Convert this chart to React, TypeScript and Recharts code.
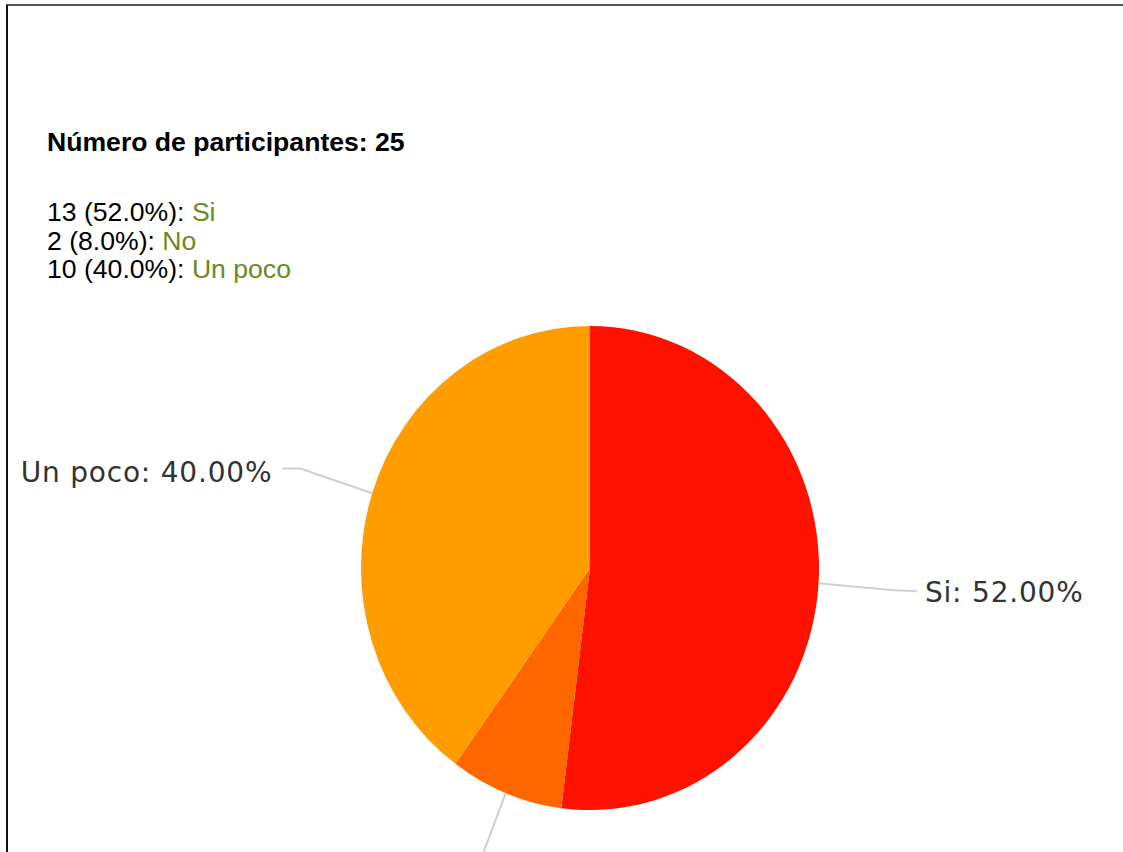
import React from "react"
import { PieChart, Pie, Cell } from "recharts"

const categories = ["Si", "No", "Un poco"]
const counts = [13, 2, 10]
const titleText = "Número de participantes"

const sliceColors = ["#ff1100", "#ff6600", "#ff9c00"]

const W = 1123
const H = 852
const CX = 590
const CY = 568
const R = 229
const SY = 1.057 // the original pie is a little taller than wide

const total = counts.reduce((a, b) => a + b, 0)
const data = categories.map((name, i) => ({ name, value: counts[i] }))

const font = '"Liberation Sans", Arial, sans-serif'

function renderLabel(props: any) {
  const { cx, cy, midAngle, outerRadius, name, percent } = props
  const rad = (midAngle * Math.PI) / 180
  const dx = Math.cos(rad) * outerRadius
  const dy = -Math.sin(rad) * outerRadius * SY
  const x1 = cx + dx
  const y1 = cy + dy
  const x2 = cx + dx * 1.33
  const y2 = cy + dy * 1.33
  const right = Math.cos(rad) >= 0
  const x3 = x2 + (right ? 23 : -18)
  const tx = x3 + (right ? 8 : -10)
  return (
    <g key={name}>
      <polyline
        points={`${x1},${y1} ${x2},${y2 + (right ? 2 : 0)} ${x3},${y2 + (right ? 3 : 0)}`}
        fill="none"
        stroke="#cfcfcf"
        strokeWidth={2}
      />
      <text
        x={tx}
        y={y2 + 4}
        textAnchor={right ? "start" : "end"}
        dominantBaseline="central"
        fontFamily='"DejaVu Sans", sans-serif'
        fontSize={28}
        letterSpacing={0.8}
        fill="#333"
      >
        {`${name}: ${(percent * 100).toFixed(2)}%`}
      </text>
    </g>
  )
}

export default function App() {
  return (
    <div
      style={{
        position: "absolute",
        left: 0,
        top: 0,
        width: W,
        height: H,
        overflow: "hidden",
        background: "#fff",
      }}
    >
      <style>{`.recharts-pie-sector { transform-origin: ${CX}px ${CY}px; transform: scaleY(${SY}); }`}</style>
      <div
        style={{
          position: "absolute",
          left: 6,
          top: 4,
          width: 1300,
          height: 1000,
          borderTop: "2px solid #555",
          borderLeft: "2px solid #111",
        }}
      />
      <div
        style={{
          position: "absolute",
          left: 47,
          top: 128,
          fontFamily: font,
          fontSize: 26.6,
          lineHeight: "29px",
          fontWeight: "bold",
          color: "#000",
        }}
      >
        {`${titleText}: ${total}`}
      </div>
      <div
        style={{
          position: "absolute",
          left: 47,
          top: 198,
          fontFamily: font,
          fontSize: 26.6,
          lineHeight: "28.5px",
          color: "#000",
        }}
      >
        {data.map((d) => (
          <div key={d.name}>
            {`${d.value} (${((d.value / total) * 100).toFixed(1)}%): `}
            <span style={{ color: "#6a8a22" }}>{d.name}</span>
          </div>
        ))}
      </div>
      <div style={{ position: "absolute", left: 0, top: 0 }}>
        <PieChart width={W} height={H} margin={{ top: 0, right: 0, bottom: 0, left: 0 }}>
          <Pie
            data={data}
            dataKey="value"
            nameKey="name"
            cx={CX}
            cy={CY}
            outerRadius={R}
            startAngle={90}
            endAngle={-270}
            stroke="none"
            label={renderLabel}
            labelLine={false}
            isAnimationActive={false}
          >
            {data.map((d, i) => (
              <Cell key={d.name} fill={sliceColors[i]} />
            ))}
          </Pie>
        </PieChart>
      </div>
    </div>
  )
}
